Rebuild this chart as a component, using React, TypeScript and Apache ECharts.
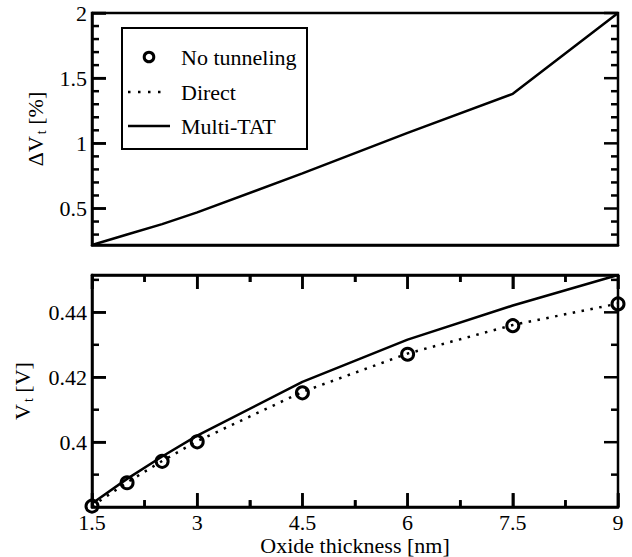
import React, { useEffect, useRef } from "react";
import * as echarts from "echarts";

// ---- data ----
const thickness = [1.5, 2, 2.5, 3, 4.5, 6, 7.5, 9];
const deltaVtMultiTAT = [0.22, 0.3, 0.38, 0.47, 0.77, 1.08, 1.38, 2.0];
const vtNoTunneling = [0.3803, 0.3875, 0.3941, 0.4001, 0.4152, 0.4271, 0.4359, 0.4426];
const vtDirect = [0.3803, 0.3876, 0.3942, 0.4003, 0.4155, 0.4273, 0.4361, 0.4427];
const vtMultiTAT = [0.3811, 0.3887, 0.3956, 0.402, 0.4186, 0.4316, 0.4421, 0.4515];

// ---- axes / ticks ----
const xRange = [1.5, 9];
const xStep = 1.5;
const topYRange = [0.22, 2.0];
const topYStep = 0.5;
const botYRange = [0.38, 0.4515];
const botYStep = 0.02;
const xMajorTicks = [1.5, 3, 4.5, 6, 7.5, 9];
const xMinorTicks = [2.25, 3.75, 5.25, 6.75, 8.25];
const topMajorTicks = [0.5, 1, 1.5, 2];
const topMinorTicks = [0.3, 0.4, 0.6, 0.7, 0.8, 0.9, 1.1, 1.2, 1.3, 1.4, 1.6, 1.7, 1.8, 1.9];
const botMajorTicks = [0.4, 0.42, 0.44];
const botMinorTicks = [0.39, 0.41, 0.43, 0.45];

const seriesNames = ["No tunneling", "Direct", "Multi-TAT"];

const FONT = "Liberation Serif";
const FS = 22;
const BLACK = "#000";
const MAJOR_LEN = 14;
const MINOR_LEN = 7;
const TICK_W = 2.5;

function yAxis(gridIndex: number, range: number[], step: number, useInterval: boolean, extra: any = {}) {
  const stepOpt = useInterval ? { interval: step } : { minInterval: step, maxInterval: step };
  return {
    type: "value",
    gridIndex,
    min: range[0],
    max: range[1],
    ...stepOpt,
    axisLine: { show: true, lineStyle: { color: BLACK, width: 2.5 } },
    splitLine: { show: false },
    axisTick: { show: true, inside: true, length: MAJOR_LEN, lineStyle: { color: BLACK, width: TICK_W } },
    axisLabel: {
      show: true,
      margin: 5,
      fontFamily: FONT,
      fontSize: FS,
      color: BLACK,
      showMinLabel: false,
      showMaxLabel: Math.abs(range[1] / step - Math.round(range[1] / step)) < 1e-9,
    },
    ...extra,
  };
}

function xAxis(gridIndex: number, position: "top" | "bottom", ticks: boolean, labels: boolean, extra: any = {}) {
  return {
    type: "value",
    gridIndex,
    position,
    min: xRange[0],
    max: xRange[1],
    interval: xStep,
    axisLine: { show: true, lineStyle: { color: BLACK, width: 2.5 } },
    splitLine: { show: false },
    axisTick: { show: ticks, inside: true, length: MAJOR_LEN, lineStyle: { color: BLACK, width: TICK_W } },
    minorTick: { show: ticks, splitNumber: 2, length: MINOR_LEN, lineStyle: { color: BLACK, width: TICK_W } },
    axisLabel: labels
      ? { show: true, margin: 4, fontFamily: FONT, fontSize: FS, color: BLACK, showMinLabel: true, showMaxLabel: true }
      : { show: false },
    ...extra,
  };
}

// inside tick marks drawn as small rect symbols placed through the axes' scales
function yTicks(axisIndex: number, values: number[], len: number, side: "left" | "right") {
  const x = side === "left" ? xRange[0] : xRange[1];
  return {
    type: "scatter",
    name: "ticks",
    xAxisIndex: axisIndex === 0 ? 0 : 1,
    yAxisIndex: axisIndex,
    silent: true,
    clip: false,
    z: 4,
    data: values.map((v) => [x, v]),
    symbol: "rect",
    symbolSize: [len, TICK_W],
    symbolOffset: [side === "left" ? len / 2 : -len / 2, 0],
    itemStyle: { color: BLACK, borderWidth: 0, opacity: 1 },
  };
}

function xTicks(values: number[], len: number, side: "bottom" | "top") {
  const y = side === "bottom" ? botYRange[0] : botYRange[1];
  return {
    type: "scatter",
    name: "ticks",
    xAxisIndex: 1,
    yAxisIndex: 1,
    silent: true,
    clip: false,
    z: 4,
    data: values.map((v) => [v, y]),
    symbol: "rect",
    symbolSize: [TICK_W, len],
    symbolOffset: [0, side === "bottom" ? -len / 2 : len / 2],
    itemStyle: { color: BLACK, borderWidth: 0, opacity: 1 },
  };
}

const richName = {
  a: { fontFamily: FONT, fontSize: FS, color: BLACK },
  b: { fontFamily: FONT, fontSize: 14, color: BLACK, padding: [12, 0, 0, 2] },
};

// legend drawn with graphic elements (box, symbols, texts)
const LEG = { x: 122, y: 28, w: 185, h: 121, rows: [57, 92, 126], sx0: 128, sx1: 170, tx: 181 };

function legendGraphic() {
  const font = `${FS}px ${FONT}`;
  return [
    {
      type: "rect",
      z: 10,
      shape: { x: LEG.x, y: LEG.y, width: LEG.w, height: LEG.h },
      style: { fill: "#fff", stroke: BLACK, lineWidth: 2 },
    },
    {
      type: "circle",
      z: 11,
      shape: { cx: (LEG.sx0 + LEG.sx1) / 2, cy: LEG.rows[0], r: 4.8 },
      style: { fill: "none", stroke: BLACK, lineWidth: 3 },
    },
    {
      type: "line",
      z: 11,
      shape: { x1: LEG.sx0, y1: LEG.rows[1], x2: LEG.sx1 - 5, y2: LEG.rows[1] },
      style: { stroke: BLACK, lineWidth: 2.5, lineDash: [2.5, 7.5] },
    },
    {
      type: "line",
      z: 11,
      shape: { x1: LEG.sx0, y1: LEG.rows[2], x2: LEG.sx1, y2: LEG.rows[2] },
      style: { stroke: BLACK, lineWidth: 2.5 },
    },
    ...seriesNames.map((n, i) => ({
      type: "text",
      z: 11,
      x: LEG.tx,
      y: LEG.rows[i],
      style: { text: n, font, fill: BLACK, align: "left", verticalAlign: "middle" },
    })),
  ];
}

export default function App() {
  const ref = useRef<HTMLDivElement>(null);
  useEffect(() => {
    if (!ref.current) return;
    const chart = echarts.init(ref.current, undefined, { renderer: "svg" });
    const gridStyle = { show: true, borderColor: BLACK, borderWidth: 2.5 };
    const option: any = {
      animation: false,
      grid: [
        { left: 92, top: 13, width: 526, height: 232, ...gridStyle },
        { left: 92, top: 275, width: 526, height: 233, ...gridStyle },
      ],
      graphic: legendGraphic(),
      xAxis: [
        xAxis(0, "bottom", false, false),
        xAxis(1, "bottom", true, true, {
          name: "Oxide thickness [nm]",
          nameLocation: "middle",
          nameGap: 24,
          nameTextStyle: { fontFamily: FONT, fontSize: FS, color: BLACK },
        }),
        xAxis(1, "top", true, false),
      ],
      yAxis: [
        yAxis(0, topYRange, topYStep, false, {
          name: "{a|ΔV}{b|t}{a| [%]}",
          nameLocation: "middle",
          nameRotate: 90,
          nameGap: 40,
          nameTextStyle: { fontFamily: FONT, fontSize: FS, color: BLACK, rich: richName },
        }),
        yAxis(1, botYRange, botYStep, true, {
          name: "{a|V}{b|t}{a| [V]}",
          nameLocation: "middle",
          nameRotate: 90,
          nameGap: 57,
          nameTextStyle: { fontFamily: FONT, fontSize: FS, color: BLACK, rich: richName },
        }),
      ],
      series: [
        yTicks(0, topMajorTicks, MAJOR_LEN, "left"),
        yTicks(0, topMajorTicks, MAJOR_LEN, "right"),
        yTicks(0, topMinorTicks, MINOR_LEN, "left"),
        yTicks(0, topMinorTicks, MINOR_LEN, "right"),
        yTicks(1, botMajorTicks, MAJOR_LEN, "left"),
        yTicks(1, botMajorTicks, MAJOR_LEN, "right"),
        yTicks(1, botMinorTicks, MINOR_LEN, "left"),
        yTicks(1, botMinorTicks, MINOR_LEN, "right"),
        xTicks(xMajorTicks, MAJOR_LEN, "bottom"),
        xTicks(xMajorTicks, MAJOR_LEN, "top"),
        xTicks(xMinorTicks, MINOR_LEN, "bottom"),
        xTicks(xMinorTicks, MINOR_LEN, "top"),
        {
          type: "line",
          name: seriesNames[2],
          xAxisIndex: 0,
          yAxisIndex: 0,
          data: thickness.map((x, i) => [x, deltaVtMultiTAT[i]]),
          symbol: "none",
          lineStyle: { color: BLACK, width: 2.5 },
          itemStyle: { color: BLACK },
        },
        {
          type: "line",
          name: seriesNames[1],
          xAxisIndex: 1,
          yAxisIndex: 1,
          data: thickness.map((x, i) => [x, vtDirect[i]]),
          symbol: "none",
          lineStyle: { color: BLACK, width: 2.5, type: [2.5, 6.5] },
          itemStyle: { color: BLACK },
        },
        {
          type: "line",
          name: seriesNames[2],
          xAxisIndex: 1,
          yAxisIndex: 1,
          data: thickness.map((x, i) => [x, vtMultiTAT[i]]),
          symbol: "none",
          lineStyle: { color: BLACK, width: 2.5 },
          itemStyle: { color: BLACK },
        },
        {
          type: "scatter",
          name: seriesNames[0],
          xAxisIndex: 1,
          yAxisIndex: 1,
          data: thickness.map((x, i) => [x, vtNoTunneling[i]]),
          symbol: "circle",
          symbolSize: 12,
          clip: false,
          z: 5,
          itemStyle: { color: "rgba(255,255,255,0)", borderColor: BLACK, borderWidth: 3, opacity: 1 },
        },
      ],
    };
    chart.setOption(option);
    return () => chart.dispose();
  }, []);
  return (
    <div
      ref={ref}
      style={{ position: "absolute", left: 0, top: 0, width: 632, height: 557, background: "#fff" }}
    />
  );
}
